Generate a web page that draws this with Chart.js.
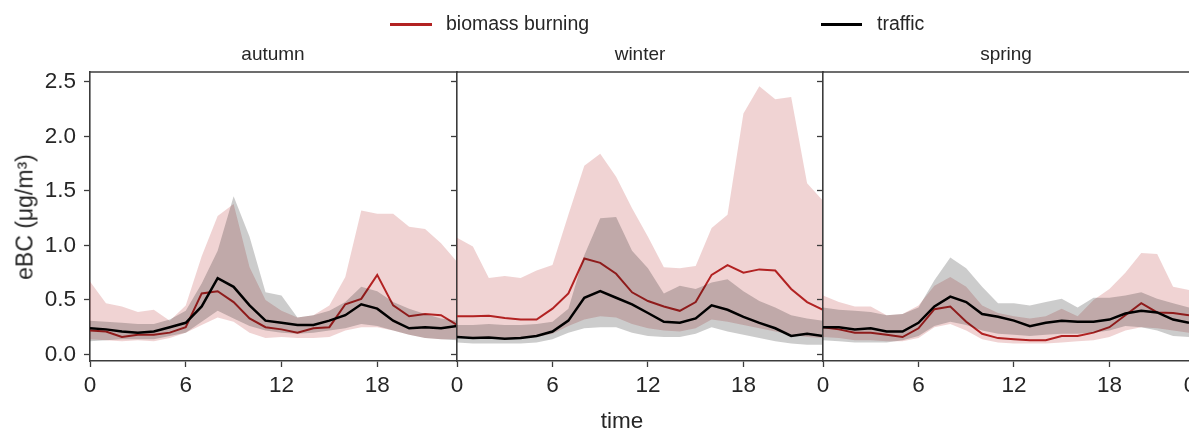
<!DOCTYPE html>
<html>
<head>
<meta charset="utf-8">
<script src="https://cdn.jsdelivr.net/npm/chart.js@4.4.0/dist/chart.umd.min.js"></script>
<style>
    html, body { margin: 0; padding: 0; background: #fff; }
    #wrap { position: relative; width: 1189px; height: 430px; overflow: hidden; font-family: "Liberation Sans", Arial, sans-serif; color: #262626; }
    #wrap canvas { position: absolute; left: 0; top: 0; }
    .txt { position: absolute; white-space: nowrap; line-height: 1; }
    .leg-line { position: absolute; height: 2.5px; }
</style>
</head>
<body>
<div id="wrap">
    <canvas id="c0" width="1189" height="430"></canvas>
    <canvas id="c1" width="1189" height="430"></canvas>
    <canvas id="c2" width="1189" height="430"></canvas>

    <div class="leg-line" style="left:390px; top:23px; width:42px; background:#b22222;"></div>
    <div class="txt" style="left:446px; top:14px; font-size:19.5px;">biomass burning</div>
    <div class="leg-line" style="left:821px; top:23px; width:41px; background:#000;"></div>
    <div class="txt" style="left:877px; top:14px; font-size:19.5px;">traffic</div>

    <div class="txt" style="left:273px; top:44px; font-size:19px; transform:translateX(-50%);">autumn</div>
    <div class="txt" style="left:640px; top:44px; font-size:19px; transform:translateX(-50%);">winter</div>
    <div class="txt" style="left:1006px; top:44px; font-size:19px; transform:translateX(-50%);">spring</div>

    <div class="txt" style="left:622px; top:410px; font-size:22.5px; transform:translateX(-50%);">time</div>
    <div class="txt" style="left:25px; top:217px; font-size:23px; transform:translate(-50%,-50%) rotate(-90deg);">eBC (μg/m³)</div>
    <div class="txt" style="left:1190px; top:374px; font-size:22.5px; transform:translateX(-50%);">0</div>
</div>

<script>
// ======= Datos (hora del día 0-23) =======
const horas = [0,1,2,3,4,5,6,7,8,9,10,11,12,13,14,15,16,17,18,19,20,21,22,23];
const yTicks = [0, 0.5, 1.0, 1.5, 2.0, 2.5];
const xTicks = [0, 6, 12, 18];

// autumn
const autumnBiomass     = [0.22,0.21,0.16,0.18,0.18,0.20,0.25,0.56,0.58,0.48,0.33,0.25,0.23,0.20,0.24,0.25,0.46,0.51,0.73,0.45,0.35,0.37,0.36,0.27];
const autumnBiomassLow  = [0.14,0.13,0.12,0.13,0.12,0.15,0.20,0.27,0.34,0.30,0.20,0.15,0.16,0.15,0.15,0.16,0.22,0.25,0.25,0.22,0.18,0.15,0.14,0.14];
const autumnBiomassHigh = [0.67,0.47,0.44,0.39,0.41,0.31,0.45,0.90,1.27,1.38,0.80,0.50,0.40,0.34,0.36,0.45,0.71,1.32,1.29,1.29,1.17,1.15,1.02,0.85];
const autumnTraffic     = [0.24,0.23,0.21,0.20,0.21,0.25,0.29,0.44,0.70,0.62,0.45,0.31,0.29,0.27,0.27,0.31,0.36,0.46,0.42,0.31,0.24,0.25,0.24,0.26];
const autumnTrafficLow  = [0.12,0.13,0.14,0.14,0.14,0.17,0.20,0.30,0.40,0.33,0.26,0.22,0.20,0.19,0.20,0.22,0.24,0.28,0.26,0.22,0.18,0.15,0.14,0.13];
const autumnTrafficHigh = [0.31,0.30,0.29,0.28,0.28,0.32,0.40,0.65,0.95,1.45,1.08,0.57,0.54,0.34,0.36,0.40,0.48,0.62,0.58,0.48,0.42,0.37,0.33,0.31];

// winter
const winterBiomass     = [0.35,0.35,0.355,0.335,0.32,0.32,0.42,0.56,0.88,0.84,0.74,0.57,0.49,0.44,0.40,0.48,0.73,0.82,0.75,0.78,0.77,0.60,0.48,0.41];
const winterBiomassLow  = [0.17,0.16,0.16,0.15,0.15,0.16,0.19,0.26,0.32,0.35,0.34,0.28,0.24,0.22,0.21,0.24,0.32,0.30,0.27,0.24,0.21,0.18,0.16,0.15];
const winterBiomassHigh = [1.07,0.99,0.70,0.72,0.70,0.77,0.82,1.28,1.73,1.84,1.63,1.34,1.08,0.80,0.79,0.81,1.16,1.28,2.21,2.46,2.34,2.36,1.57,1.41];
const winterTraffic     = [0.16,0.15,0.155,0.145,0.15,0.17,0.21,0.31,0.52,0.58,0.52,0.46,0.38,0.30,0.29,0.33,0.45,0.41,0.345,0.29,0.24,0.17,0.19,0.17];
const winterTrafficLow  = [0.11,0.10,0.10,0.10,0.10,0.11,0.14,0.20,0.24,0.25,0.25,0.20,0.17,0.16,0.16,0.19,0.25,0.21,0.18,0.15,0.12,0.10,0.09,0.09];
const winterTrafficHigh = [0.27,0.27,0.28,0.27,0.27,0.28,0.30,0.42,0.91,1.25,1.26,0.95,0.79,0.56,0.63,0.60,0.66,0.69,0.58,0.49,0.43,0.36,0.33,0.31];

// spring
const springBiomass     = [0.25,0.23,0.20,0.20,0.18,0.16,0.24,0.415,0.44,0.30,0.19,0.15,0.14,0.13,0.13,0.17,0.17,0.20,0.25,0.36,0.47,0.385,0.38,0.36];
const springBiomassLow  = [0.16,0.15,0.13,0.13,0.12,0.12,0.15,0.25,0.28,0.22,0.14,0.11,0.10,0.10,0.10,0.11,0.12,0.13,0.16,0.22,0.25,0.24,0.22,0.20];
const springBiomassHigh = [0.54,0.48,0.44,0.44,0.36,0.37,0.45,0.63,0.71,0.62,0.45,0.38,0.35,0.33,0.35,0.42,0.35,0.50,0.60,0.75,0.93,0.92,0.62,0.59];
const springTraffic     = [0.25,0.25,0.23,0.24,0.21,0.21,0.29,0.44,0.53,0.48,0.37,0.345,0.31,0.26,0.29,0.31,0.30,0.30,0.32,0.375,0.40,0.385,0.32,0.29];
const springTrafficLow  = [0.13,0.12,0.11,0.11,0.11,0.13,0.17,0.26,0.30,0.27,0.22,0.19,0.18,0.17,0.18,0.19,0.19,0.20,0.22,0.26,0.25,0.22,0.17,0.16];
const springTrafficHigh = [0.43,0.41,0.40,0.39,0.36,0.37,0.43,0.68,0.89,0.79,0.62,0.47,0.47,0.45,0.48,0.51,0.43,0.52,0.52,0.54,0.57,0.51,0.47,0.43];

document.addEventListener("DOMContentLoaded", function () {
    const rojo = '#b22222';
    const rojoBanda = 'rgba(178,34,34,0.2)';
    const grisBanda = 'rgba(0,0,0,0.2)';
    const ejeColor = '#3c3c3c';
    const fuente = '"Liberation Sans", Arial, sans-serif';

    const pts = arr => horas.map((h, i) => ({ x: h, y: arr[i] }));

    // borde superior del panel
    const marco = {
        id: 'marco',
        afterDraw(chart) {
            const a = chart.chartArea, ctx = chart.ctx;
            ctx.save();
            ctx.strokeStyle = ejeColor;
            ctx.lineWidth = 1.6;
            ctx.beginPath();
            ctx.moveTo(a.left - 0.8, a.top);
            ctx.lineTo(a.right + 0.8, a.top);
            ctx.stroke();
            ctx.restore();
        }
    };

    function panel(id, series, left, right, conEtiquetas) {
        const [bb, bbLo, bbHi, tr, trLo, trHi] = series;
        const ctx = document.getElementById(id).getContext('2d');
        return new Chart(ctx, {
            type: 'line',
            data: {
                datasets: [
                    { data: pts(bbLo), borderWidth: 0, pointRadius: 0, fill: false, order: 6 },
                    { data: pts(bbHi), borderWidth: 0, pointRadius: 0, fill: '-1', backgroundColor: rojoBanda, order: 5 },
                    { data: pts(bb), borderColor: rojo, borderWidth: 2, pointRadius: 0, fill: false, order: 4 },
                    { data: pts(trLo), borderWidth: 0, pointRadius: 0, fill: false, order: 3 },
                    { data: pts(trHi), borderWidth: 0, pointRadius: 0, fill: '-1', backgroundColor: grisBanda, order: 2 },
                    { data: pts(tr), borderColor: '#000', borderWidth: 2.5, pointRadius: 0, fill: false, order: 1 }
                ]
            },
            options: {
                responsive: false,
                animation: false,
                events: [],
                layout: { padding: { left: left, right: right, top: 72, bottom: 0 } },
                plugins: { legend: { display: false }, tooltip: { enabled: false }, title: { display: false } },
                scales: {
                    x: {
                        type: 'linear', min: 0, max: 23,
                        afterFit: s => { s.height = 69; },
                        afterBuildTicks: s => { s.ticks = xTicks.map(v => ({ value: v })); },
                        ticks: { color: '#262626', font: { family: fuente, size: 22.5 }, padding: 5, maxRotation: 0, autoSkip: false },
                        grid: { drawOnChartArea: false, drawTicks: true, tickLength: 6, tickColor: ejeColor, tickWidth: 1.3 },
                        border: { display: true, color: ejeColor, width: 1.6 }
                    },
                    y: {
                        min: -0.06, max: 2.59,
                        afterFit: s => { s.width = conEtiquetas ? 90 : 17; },
                        afterBuildTicks: s => { s.ticks = yTicks.map(v => ({ value: v })); },
                        ticks: {
                            color: '#262626', font: { family: fuente, size: 22.5 }, padding: 8,
                            callback: v => conEtiquetas ? v.toFixed(1) : ''
                        },
                        grid: { drawOnChartArea: false, drawTicks: true, tickLength: 6, tickColor: ejeColor, tickWidth: 1.3 },
                        border: { display: true, color: ejeColor, width: 1.6 }
                    }
                }
            },
            plugins: [marco]
        });
    }

    // ======= Paneles: otoño, invierno, primavera =======
    panel('c0', [autumnBiomass, autumnBiomassLow, autumnBiomassHigh, autumnTraffic, autumnTrafficLow, autumnTrafficHigh], 0, 1189 - 457, true);
    panel('c1', [winterBiomass, winterBiomassLow, winterBiomassHigh, winterTraffic, winterTrafficLow, winterTrafficHigh], 440, 1189 - 823, false);
    panel('c2', [springBiomass, springBiomassLow, springBiomassHigh, springTraffic, springTrafficLow, springTrafficHigh], 806, 0, false);
});
</script>
</body>
</html>
